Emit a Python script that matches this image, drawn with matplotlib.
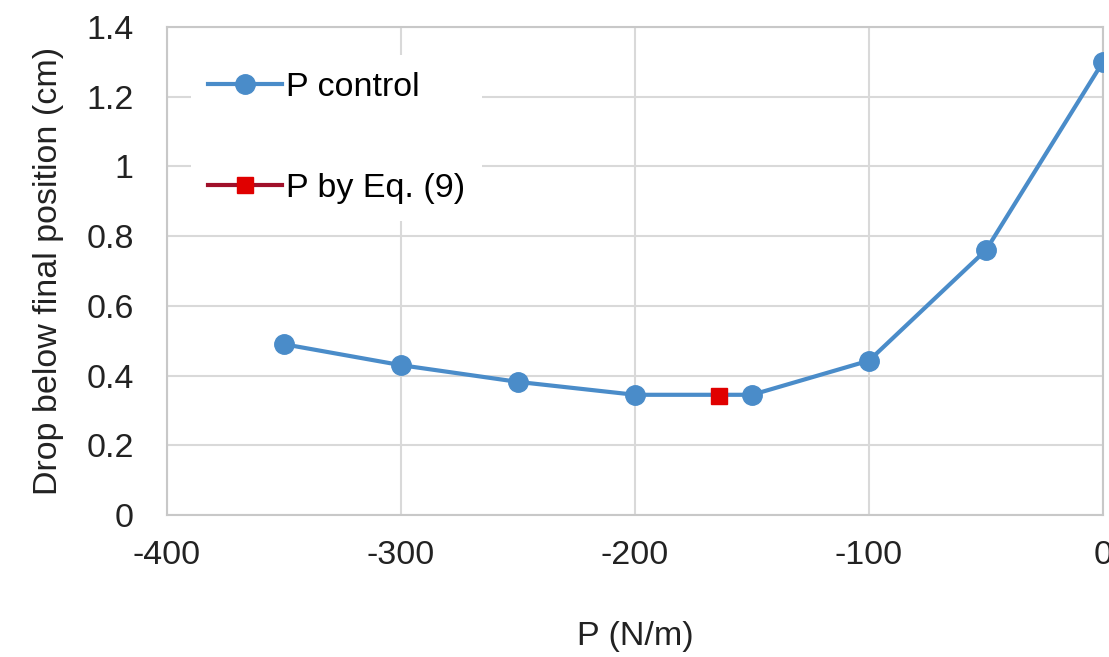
import matplotlib
matplotlib.use("Agg")
import matplotlib.pyplot as plt

p_values = [-350, -300, -250, -200, -150, -100, -50, 0]
drop_values = [0.49, 0.43, 0.382, 0.345, 0.345, 0.443, 0.76, 1.30]
p_eq = [-164]
drop_eq = [0.342]
x_ticks = [-400, -300, -200, -100, 0]
y_ticks = [0, 0.2, 0.4, 0.6, 0.8, 1.0, 1.2, 1.4]
y_tick_labels = ["0", "0.2", "0.4", "0.6", "0.8", "1", "1.2", "1.4"]

plt.rcParams['font.family'] = ['Liberation Sans', 'DejaVu Sans']
fig = plt.figure(figsize=(11.09, 6.57), dpi=100)
ax = fig.add_axes([0.1506, 0.216, 0.844, 0.743])

blue = '#4a8cc9'
ax.plot(p_values, drop_values, color=blue, lw=3, marker='o', ms=14,
        label='P control', zorder=3)
ax.plot(p_eq, drop_eq, color='#a0102a', lw=3, marker='s', ms=11,
        mfc='#e00000', mec='#e00000', label='P by Eq. (9)', zorder=4)

ax.set_xlim(-400, 0)
ax.set_ylim(0, 1.4)
ax.set_xticks(x_ticks)
ax.set_xticklabels([str(v) for v in x_ticks])
ax.set_yticks(y_ticks)
ax.set_yticklabels(y_tick_labels)
ax.tick_params(length=0, labelsize=24.5, colors='#222222', pad=24)
ax.tick_params(axis='x', pad=18)
ax.grid(True, color='#d9d9d9', lw=1.5)
ax.set_axisbelow(True)
for s in ax.spines.values():
    s.set_color('#c8c8c8')
    s.set_linewidth(1.5)

ax.set_xlabel('P (N/m)', fontsize=24.5, color='#222222', labelpad=36)
ax.set_ylabel('Drop below final position (cm)', fontsize=24.5, color='#222222', labelpad=16)

leg = ax.legend(loc='upper left', bbox_to_anchor=(0.007, 0.977), frameon=True,
                fontsize=24.5, handlelength=2.2, handletextpad=0.1,
                labelspacing=2.05, borderpad=0.5)
leg.get_frame().set_edgecolor('none')
leg.get_frame().set_facecolor('white')
leg.get_frame().set_alpha(1)

fig.savefig('out.png', dpi=100)
